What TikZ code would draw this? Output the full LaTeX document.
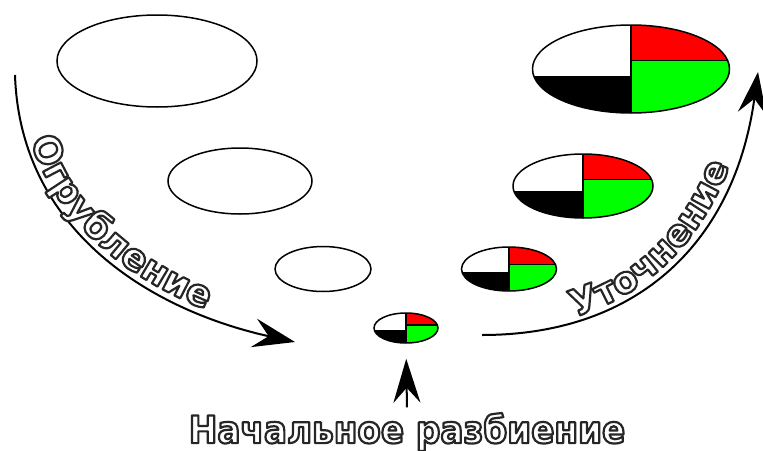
\documentclass[tikz,border=0pt]{standalone}
\usepackage{fontspec}
\usepackage{xcolor}
\usepackage{tikz}
\usetikzlibrary{calc, shapes.geometric, arrows.meta, decorations.text}

\newfontfamily\labelfont{DejaVu Sans Bold}[FakeStretch=0.9]
\newfontfamily\arcfont{DejaVu Sans Bold}
\definecolor{quadred}{RGB}{255,0,0}
\definecolor{quadgreen}{RGB}{0,255,0}

% hollow letters: white fill, dark stroke round each glyph
\newcommand{\hollow}{\color{white}\special{pdf:literal direct 0.15 0.15 0.15 RG 2.2 w 1 j 2 Tr}}

\tikzset{
    blank/.style={ellipse, draw, line width=1.5pt, inner sep=0pt},
    split/.style={blank, path picture={
        \coordinate (mid) at (path picture bounding box.center);
        \coordinate (pw) at (path picture bounding box.west);
        \coordinate (pe) at (path picture bounding box.east);
        \coordinate (rcut) at ($(mid)!0.2!(path picture bounding box.north)$);
        \coordinate (lcut) at ($(mid)!0.17!(path picture bounding box.south)$);
        \fill[quadred] (rcut) rectangle (path picture bounding box.north east);
        \fill[quadgreen] (rcut) rectangle (path picture bounding box.south east);
        \fill[black] (lcut) rectangle (path picture bounding box.south west);
        \draw[line width=1.3pt] (path picture bounding box.north) -- (path picture bounding box.south)
            (lcut) -- (lcut -| pw) (rcut) -- (rcut -| pe);
    }},
    bigarrow/.style={line width=2pt, -{Stealth[length=42pt, width=29pt, inset=15pt]}},
}

\begin{document}
\begin{tikzpicture}[x=1pt, y=-1pt]
    \useasboundingbox (0,0) rectangle (763,450);

    % coarse levels
    \node[blank, minimum width=200pt, minimum height=92pt] (c1) at (157,61) {};
    \node[blank, minimum width=144pt, minimum height=66pt] (c2) at (240,181) {};
    \node[blank, minimum width=96pt, minimum height=45pt] (c3) at (323,269) {};

    % partitioned levels
    \node[split, minimum width=64pt, minimum height=30pt] (p0) at (406,328) {};
    \node[split, minimum width=95pt, minimum height=44pt] (p1) at (509,269) {};
    \node[split, minimum width=140pt, minimum height=64pt] (p2) at (583,186) {};
    \node[split, minimum width=197pt, minimum height=88pt] (p3) at (631,69) {};

    \node[font=\labelfont\fontsize{38}{38}\selectfont] (init) at (407,432)
        {\hollow Начальное разбиение};

    \coordinate (cs) at (15,75);
    \coordinate (ce) at (295,342);
    \coordinate (rs) at (482,335);
    \coordinate (re) at (758,72);

    \draw[bigarrow, postaction={decorate}, decoration={text along path, raise=5pt,
        text align={left indent=68pt},
        text={|\arcfont\fontsize{37}{37}\selectfont\hollow|Огрубление}}]
        (cs) .. controls (20,230) and (150,310) .. (ce);
    \draw[bigarrow, postaction={decorate}, decoration={text along path, raise=5pt,
        text align={left indent=96pt},
        text={|\arcfont\fontsize{37}{37}\selectfont\hollow|Уточнение}}]
        (rs) .. controls (640,335) and (735,240) .. (re);

    \draw[line width=2pt, -{Stealth[length=44pt, width=27pt, inset=15pt]},
        shorten <=2pt, shorten >=15pt] (init.north) -- (p0.south);
\end{tikzpicture}
\end{document}
